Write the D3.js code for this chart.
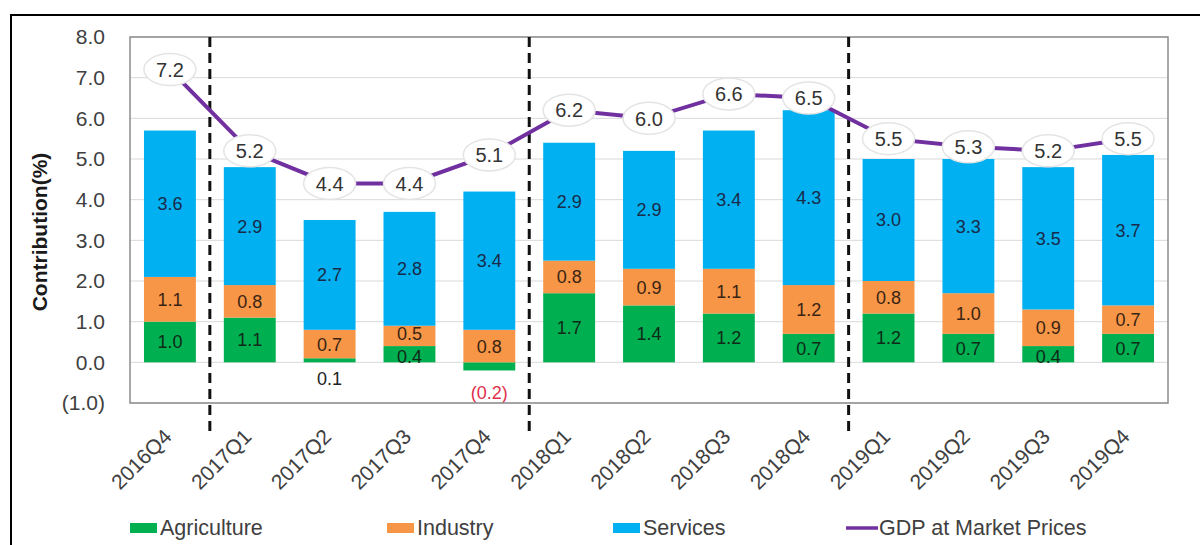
<!DOCTYPE html>
<html>
<head>
<meta charset="utf-8">
<script src="https://cdn.jsdelivr.net/npm/d3@7"></script>
<style>
  html, body { margin: 0; padding: 0; background: #fff; }
  svg { display: block; font-family: "Liberation Sans", Arial, sans-serif; }
</style>
</head>
<body>
<svg id="chart" width="1200" height="545"></svg>
<script>
// ---- data ----
const categories = ["2016Q4","2017Q1","2017Q2","2017Q3","2017Q4","2018Q1","2018Q2","2018Q3","2018Q4","2019Q1","2019Q2","2019Q3","2019Q4"];
const agriculture = [1.0, 1.1, 0.1, 0.4, -0.2, 1.7, 1.4, 1.2, 0.7, 1.2, 0.7, 0.4, 0.7];
const industry    = [1.1, 0.8, 0.7, 0.5, 0.8, 0.8, 0.9, 1.1, 1.2, 0.8, 1.0, 0.9, 0.7];
const services    = [3.6, 2.9, 2.7, 2.8, 3.4, 2.9, 2.9, 3.4, 4.3, 3.0, 3.3, 3.5, 3.7];
const gdp         = [7.2, 5.2, 4.4, 4.4, 5.1, 6.2, 6.0, 6.6, 6.5, 5.5, 5.3, 5.2, 5.5];
const yTicks = [-1, 0, 1, 2, 3, 4, 5, 6, 7, 8];
const dividers = ["2017Q1", "2018Q1", "2019Q1"];
const seriesNames = ["Agriculture", "Industry", "Services"];
const lineName = "GDP at Market Prices";

const colors = { Agriculture: "#00B050", Industry: "#F79646", Services: "#00B0F0" };
const labelColors = { Agriculture: "#0f2a18", Industry: "#3a2414", Services: "#1b2a48" };
const purple = "#7030A0";

const svg = d3.select("#chart");
const fmt = v => v < 0 ? "(" + d3.format(".1f")(-v) + ")" : d3.format(".1f")(v);

// outer frame
svg.append("rect").attr("x", 11).attr("y", 15).attr("width", 1300).attr("height", 700)
  .attr("fill", "none").attr("stroke", "#000").attr("stroke-width", 2);

const L = 130, R = 1168, T = 37, B = 403;
const x = d3.scaleBand().domain(categories).range([L, R]).paddingInner(0.35).paddingOuter(0.175);
const y = d3.scaleLinear().domain([-1, 8]).range([B, T]);

// gridlines
svg.append("g").selectAll("line").data(yTicks).join("line")
  .attr("x1", L).attr("x2", R).attr("y1", d => y(d)).attr("y2", d => y(d))
  .attr("stroke", "#d9d9d9").attr("stroke-width", 1);

// y axis labels
const yAxis = d3.axisLeft(y).tickValues(yTicks).tickFormat(fmt).tickSize(0).tickPadding(25);
const yg = svg.append("g").attr("transform", `translate(${L},0)`).call(yAxis);
yg.select(".domain").remove();
yg.selectAll("text").attr("font-size", 21).attr("fill", "#404040")
  .attr("font-family", "Liberation Sans, Arial, sans-serif");

// y title
svg.append("text").attr("transform", `translate(47,${(T + B) / 2 + 12}) rotate(-90)`)
  .attr("text-anchor", "middle").attr("font-size", 21).attr("font-weight", "bold")
  .attr("fill", "#1a1a1a").text("Contribution(%)");

// stacked bars
const rows = categories.map((c, i) => ({ cat: c, Agriculture: agriculture[i], Industry: industry[i], Services: services[i] }));
const stack = d3.stack().keys(seriesNames).offset(d3.stackOffsetDiverging)(rows);

const bars = svg.append("g");
stack.forEach(s => {
  bars.append("g").attr("fill", colors[s.key]).selectAll("rect").data(s).join("rect")
    .attr("x", d => x(d.data.cat)).attr("width", x.bandwidth())
    .attr("y", d => y(Math.max(d[0], d[1])))
    .attr("height", d => Math.abs(y(d[0]) - y(d[1])));
});

// bar value labels
const lab = svg.append("g").attr("font-size", 18).attr("text-anchor", "middle");
stack.forEach(s => {
  s.forEach(d => {
    const v = d.data[s.key];
    let cy, col = labelColors[s.key];
    if (v < 0) { cy = y(d[0]) + 22; col = "#e0304a"; }
    else if (v < 0.25) { cy = y(0) + 16; col = "#222"; }
    else {
      cy = (y(d[0]) + y(d[1])) / 2;
      if (v < 0.6 && s.key === "Industry") cy -= 2;
      if (v < 0.6 && s.key === "Agriculture") cy += 2;
    }
    lab.append("text").attr("x", x(d.data.cat) + x.bandwidth() / 2).attr("y", cy)
      .attr("dy", "0.36em").attr("fill", col).text(fmt(v));
  });
});

// plot border
svg.append("rect").attr("x", L).attr("y", T).attr("width", R - L).attr("height", B - T)
  .attr("fill", "none").attr("stroke", "#8c8c8c").attr("stroke-width", 1.5);

// dashed dividers
const step = x.step();
svg.append("g").selectAll("line").data(dividers).join("line")
  .attr("x1", d => x(d) - (step - x.bandwidth()) / 2)
  .attr("x2", d => x(d) - (step - x.bandwidth()) / 2)
  .attr("y1", T).attr("y2", 432)
  .attr("stroke", "#111").attr("stroke-width", 3).attr("stroke-dasharray", "10,6");

// x labels
svg.append("g").selectAll("text").data(categories).join("text")
  .attr("transform", d => `translate(${x(d) + x.bandwidth() / 2 + 3},438) rotate(-45)`)
  .attr("text-anchor", "end").attr("font-size", 21).attr("fill", "#404040").text(d => d);

// GDP line
const cx = c => x(c) + x.bandwidth() / 2;
svg.append("path").datum(gdp)
  .attr("d", d3.line().x((d, i) => cx(categories[i])).y(d => y(d)))
  .attr("fill", "none").attr("stroke", purple).attr("stroke-width", 4);

const gl = svg.append("g").selectAll("g").data(gdp).join("g")
  .attr("transform", (d, i) => `translate(${cx(categories[i])},${y(d)})`);
gl.append("ellipse").attr("rx", 26).attr("ry", 16)
  .attr("fill", "#fff").attr("stroke", "#e4e4e4").attr("stroke-width", 1.5);
gl.append("text").attr("text-anchor", "middle").attr("dy", "0.36em")
  .attr("font-size", 20).attr("fill", "#333").text(d => fmt(d));

// legend
const leg = svg.append("g");
const legendItems = [
  { name: "Agriculture", x: 130, type: "rect" },
  { name: "Industry", x: 387, type: "rect" },
  { name: "Services", x: 613, type: "rect" },
  { name: lineName, x: 846, type: "line" }
];
legendItems.forEach(it => {
  if (it.type === "rect") {
    leg.append("rect").attr("x", it.x).attr("y", 523).attr("width", 27).attr("height", 10)
      .attr("fill", colors[it.name]);
  } else {
    leg.append("line").attr("x1", it.x).attr("x2", it.x + 32).attr("y1", 528).attr("y2", 528)
      .attr("stroke", purple).attr("stroke-width", 3.5);
  }
  leg.append("text").attr("x", it.x + (it.type === "rect" ? 30 : 33)).attr("y", 535)
    .attr("font-size", 21.5).attr("fill", "#404040").text(it.name);
});
</script>
</body>
</html>
